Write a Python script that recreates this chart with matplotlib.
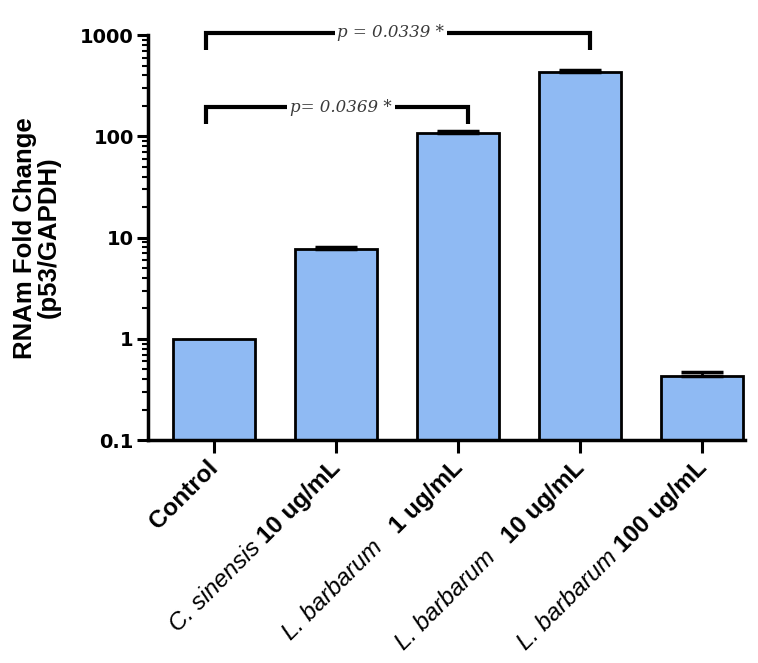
import matplotlib
matplotlib.use("Agg")
import matplotlib.pyplot as plt
import matplotlib.transforms as mtransforms
import numpy as np

plt.rcParams['font.family'] = ['Liberation Sans', 'DejaVu Sans']

species = ["", "C. sinensis", "L. barbarum", "L. barbarum", "L. barbarum"]
doses = ["Control", "10 ug/mL", "1 ug/mL", "10 ug/mL", "100 ug/mL"]
gaps = [0, 1, 3, 3, 1]  # number of spaces between species and dose
values = [1.0, 7.7, 108, 430, 0.43]
errors = [0.0, 0.4, 4, 20, 0.04]
yticks = [0.1, 1, 10, 100, 1000]
yticklabels = ["0.1", "1", "10", "100", "1000"]

comparisons = [(0, 2, "p= 0.0369 *", 134, 194), (0, 3, "p = 0.0339 *", 710, 1050)]

fig = plt.figure(figsize=(7.58, 6.63), dpi=100)
ax = fig.add_axes([0.195, 0.336, 0.788, 0.611])

x = np.arange(len(values))
ax.bar(x, values, width=0.67, color='#8fbaf3', edgecolor='black', linewidth=2, zorder=2)
vals = np.array(values)
errs = np.array(errors)
m = errs > 0
ax.errorbar(x[m], vals[m], yerr=[np.zeros(m.sum()), errs[m]], fmt='none',
            ecolor='black', elinewidth=2, capsize=15, capthick=2.5, zorder=3)

ax.set_yscale('log')
ax.set_ylim(0.1, 1000)
ax.set_xlim(-0.54, 4.35)
ax.set_yticks(yticks)
ax.set_yticklabels(yticklabels, fontsize=14, fontweight='bold', family='DejaVu Sans')
ax.yaxis.set_minor_locator(matplotlib.ticker.LogLocator(base=10, subs=np.arange(2, 10)))
ax.yaxis.set_minor_formatter(matplotlib.ticker.NullFormatter())
ax.tick_params(axis='y', which='major', length=8, width=2.2, pad=2)
ax.tick_params(axis='y', which='minor', length=4, width=1.5)
ax.set_xticks(x)
ax.set_xticklabels([""] * len(x))
ax.tick_params(axis='x', length=9, width=2.2)

for s in ['top', 'right']:
    ax.spines[s].set_visible(False)
for s in ['left', 'bottom']:
    ax.spines[s].set_linewidth(2.5)

ax.set_ylabel("RNAm Fold Change\n(p53/GAPDH)", fontsize=18.5, fontweight='bold',
              labelpad=14, linespacing=1.0)

# mixed-style rotated x labels
renderer = fig.canvas.get_renderer()
fs = 17.5
blend = mtransforms.blended_transform_factory(ax.transData, ax.transAxes)
pad_px = 16
shift_x = -7
c45 = np.cos(np.deg2rad(45))
space_t = fig.text(0, 0, "a a", fontsize=fs)
w_aa = space_t.get_window_extent(renderer).width
space_t.set_text("aa")
space_w = w_aa - space_t.get_window_extent(renderer).width
space_t.remove()
for i, (sp, dose, g) in enumerate(zip(species, doses, gaps)):
    ax.annotate(dose, xy=(i, 0), xycoords=blend, xytext=(shift_x, -pad_px),
                textcoords='offset pixels', rotation=45, ha='right', va='top',
                rotation_mode='anchor', fontsize=fs, fontweight='bold')
    if sp:
        tmp = fig.text(0, 0, dose, fontsize=fs, fontweight='bold')
        wb = tmp.get_window_extent(renderer).width
        tmp.remove()
        off = wb + g * space_w
        ax.annotate(sp, xy=(i, 0), xycoords=blend,
                    xytext=(shift_x - off * c45, -pad_px - off * c45),
                    textcoords='offset pixels', rotation=45, ha='right', va='top',
                    rotation_mode='anchor', fontsize=fs, style='italic')

# significance brackets
for i0, i1, txt, ylow, ytop in comparisons:
    xl, xr = i0 - 0.06, i1 + 0.08
    ax.plot([xl, xl, xr, xr], [ylow, ytop, ytop, ylow], color='black', lw=3,
            solid_capstyle='butt', solid_joinstyle='miter', clip_on=False, zorder=4)
    xm = (xl + xr) / 2 + (-0.06 if i1 == 3 else 0.03)
    ax.text(xm, ytop, txt, ha='center', va='center', fontsize=12,
            family=['DejaVu Serif'], style='italic', color='#3a3a3a',
            bbox=dict(facecolor='white', edgecolor='none', pad=2), zorder=5, clip_on=False)

fig.savefig("out.png", dpi=100)
